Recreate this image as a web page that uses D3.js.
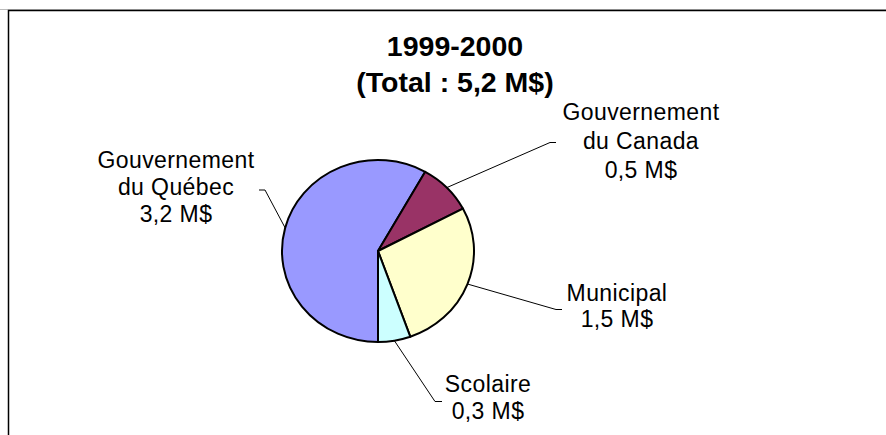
<!DOCTYPE html>
<html>
<head>
<meta charset="utf-8">
<script src="https://cdn.jsdelivr.net/npm/d3@7"></script>
<style>
  html, body { margin: 0; padding: 0; background: #fff; }
  svg { display: block; }
  text { font-family: "Liberation Sans", Arial, sans-serif; fill: #000; }
</style>
</head>
<body>
<svg id="chart" width="886" height="435"></svg>
<script>
// ---- data ----
const titleLines = ["1999-2000", "(Total : 5,2 M$)"];
const categories = ["Gouvernement du Québec", "Gouvernement du Canada", "Municipal", "Scolaire"];
const categoryLines = [["Gouvernement", "du Québec"], ["Gouvernement", "du Canada"], ["Municipal"], ["Scolaire"]];
const values = [3.2, 0.5, 1.5, 0.3];
const colors = ["#9999FF", "#993366", "#FFFFCC", "#CCFFFF"];

// ---- layout ----
const W = 886, H = 435;
const cx = 378, cy = 251, ry = 91, rx = 96;
const svg = d3.select("#chart");

svg.append("rect").attr("x", 0).attr("y", 0).attr("width", W).attr("height", H).attr("fill", "#fff");
svg.append("line").attr("x1", 0).attr("x2", W).attr("y1", 9.5).attr("y2", 9.5).attr("stroke", "#bbb").attr("stroke-width", 1);
svg.append("rect").attr("x", 8.5).attr("y", 10.5).attr("width", W + 20).attr("height", H + 20)
  .attr("fill", "#fff").attr("stroke", "#000").attr("stroke-width", 1.5);

// title
const title = svg.append("text").attr("text-anchor", "middle")
  .style("font-weight", "bold").style("font-size", "28.5px");
titleLines.forEach((t, i) => {
  title.append("tspan").attr("x", 455).attr("y", 56 + i * 36).text(t);
});

// pie
const pie = d3.pie().sort(null).value(d => d)
  .startAngle(Math.PI).endAngle(3 * Math.PI);
const arcs = pie(values);
const arc = d3.arc().innerRadius(0).outerRadius(ry);

const g = svg.append("g").attr("transform", `translate(${cx},${cy}) scale(${rx / ry},1)`);
g.selectAll("path").data(arcs).join("path")
  .attr("d", arc)
  .attr("fill", (d, i) => colors[i])
  .attr("stroke", "#000")
  .attr("stroke-width", 2)
  .attr("vector-effect", "non-scaling-stroke")
  .attr("stroke-linejoin", "round");

// labels: elbow point, horizontal tail end, text center x, first baseline, line spacing
const labelLayout = [
  { elbow: [265, 190], tail: [259, 190], tx: 176, ty: 168, dy: 27 },
  { elbow: [550, 142.5], tail: [556, 142.5], tx: 641, ty: 120, dy: 29 },
  { elbow: [556, 309.5], tail: [562, 309.5], tx: 617, ty: 301, dy: 26 },
  { elbow: [435, 401.5], tail: [442, 401.5], tx: 488, ty: 392, dy: 26.5 }
];

const fmt = v => v.toFixed(1).replace(".", ",") + " M$";

arcs.forEach((a, i) => {
  const mid = (a.startAngle + a.endAngle) / 2;
  const px = cx + rx * Math.sin(mid);
  const py = cy - ry * Math.cos(mid);
  const L = labelLayout[i];
  svg.append("path")
    .attr("d", d3.line()([[px, py], L.elbow, L.tail]))
    .attr("fill", "none").attr("stroke", "#000").attr("stroke-width", 1);
  const t = svg.append("text").attr("text-anchor", "middle").style("font-size", "23px")
    .style("letter-spacing", "0.4px");
  const lines = categoryLines[i].concat([fmt(values[i])]);
  lines.forEach((s, k) => {
    t.append("tspan").attr("x", L.tx).attr("y", L.ty + k * L.dy).text(s);
  });
});
</script>
</body>
</html>
